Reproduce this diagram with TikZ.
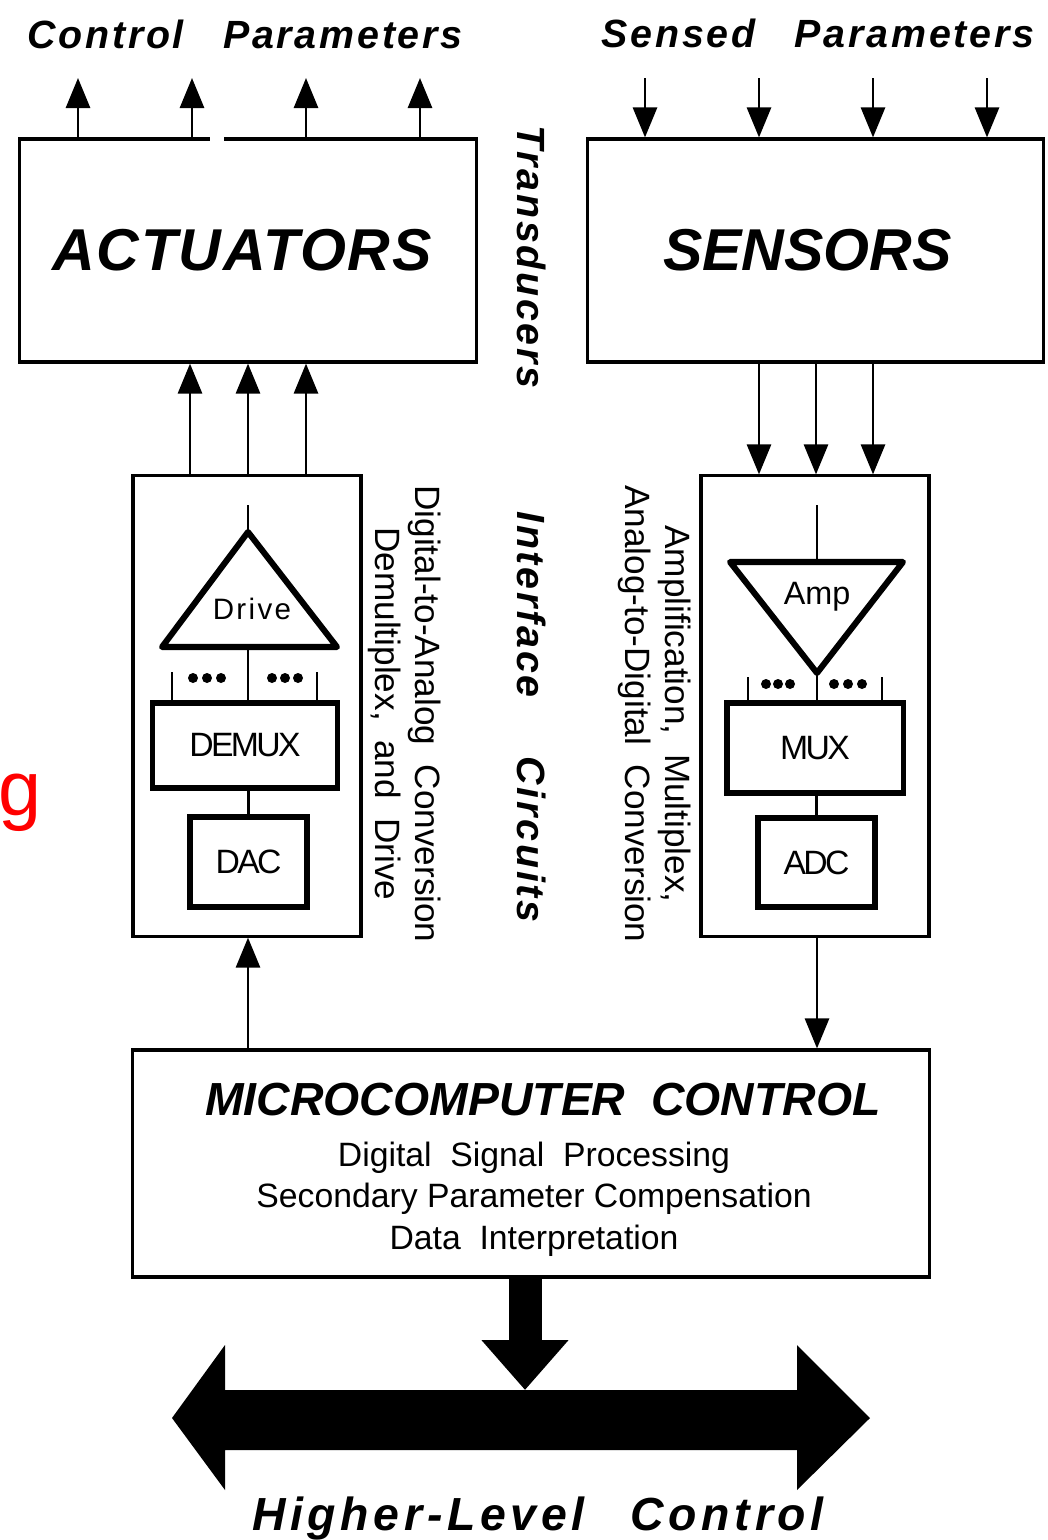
\documentclass[tikz,border=0pt]{standalone}
\usepackage{fontspec}
\setmainfont{Liberation Sans}
\setsansfont{Liberation Sans}
\usepackage{tikz}
\usetikzlibrary{arrows.meta,positioning}

\begin{document}
\begin{tikzpicture}[x=0.025cm, y=-0.025cm, >={Triangle[length=0.75cm,width=0.6cm]}, line width=2pt]
  % ------- styles -------
  \tikzstyle{box}=[draw, line width=2.2pt, inner sep=0pt]
  \tikzstyle{subbox}=[draw, line width=3.6pt, inner sep=0pt, font=\fontsize{24}{28}\selectfont\addfontfeature{LetterSpace=-8}]
  \tikzstyle{tri}=[line width=4.3pt, line join=round]
  \tikzstyle{tag}=[inner sep=0pt, font=\fontsize{28}{32}\selectfont\bfseries\itshape\addfontfeature{LetterSpace=7}]
  \tikzstyle{unit}=[font=\fontsize{42}{48}\selectfont\bfseries\itshape\addfontfeature{LetterSpace=3}]
  \tikzstyle{note}=[inner sep=0pt, align=center, font=\fontsize{25}{28.5}\selectfont]
  \tikzstyle{dot}=[fill, circle, inner sep=0pt, minimum size=0.25cm]

  \useasboundingbox (0,0) rectangle (1047,1540);

  % ------- transducers -------
  \node[box, unit, minimum width=11.4cm, minimum height=5.575cm] (act) at (248,250.5) {ACTUATORS\hspace*{0.3cm}};
  \node[box, unit, minimum width=11.375cm, minimum height=5.575cm] (sens) at (815.5,250.5) {\addfontfeature{LetterSpace=0}SENSORS\hspace*{0.4cm}};
  \fill[white] (210,134) rectangle (224,144);

  \node[tag, anchor=base] (ctrlpar) at (245,48) {Control\hspace{1em}Parameters};
  \node[tag, anchor=base] (senspar) at (818,47) {Sensed\hspace{1em}Parameters};
  \node[tag, rotate=-90] (trans) at (532,257) {Transducers};

  % ------- interface circuits -------
  \node[box, minimum width=5.7cm, minimum height=11.5cm] (dacblk) at (247,706) {};
  \node[box, minimum width=5.7cm, minimum height=11.5cm] (adcblk) at (815,706) {};

  \node[subbox, minimum width=4.625cm, minimum height=2.125cm] (demux) at (245,745.5) {DEMUX};
  \node[subbox, minimum width=2.925cm, minimum height=2.25cm] (dac) at (248.5,862) {DAC};
  \node[subbox, minimum width=4.4cm, minimum height=2.25cm] (mux) at (815,748) {MUX};
  \node[subbox, minimum width=2.925cm, minimum height=2.225cm] (adc) at (816.5,862.5) {ADC};

  % drive amplifier
  \coordinate (drvin) at (248,505);
  \coordinate (drvtop) at (248,532);
  \coordinate (drvbot) at (248,647);
  \draw[tri] (162,647) -- (drvtop) -- (337,647) -- cycle;
  \node[font=\fontsize{21}{24}\selectfont\addfontfeature{LetterSpace=8}] (drv) at (252,609) {Drive};
  \coordinate (dl) at (172,672);
  \coordinate (dr) at (317,672);
  \draw (drvin) -- (drvtop);
  \draw (drvbot) -- (drvbot |- demux.north);
  \draw (dl) -- (dl |- demux.north);
  \draw (dr) -- (dr |- demux.north);
  \foreach \x in {193,207,221,272,285,298} \node[dot] at (\x,678) {};
  \draw (dac.north |- demux.south) -- (dac.north);

  % input amplifier
  \coordinate (ampin) at (817,505);
  \coordinate (amptop) at (817,562);
  \coordinate (ampbot) at (817,673);
  \draw[tri] (730,562) -- (903,562) -- (ampbot) -- cycle;
  \node[font=\fontsize{23}{26}\selectfont] (amp) at (817,597) {Amp};
  \coordinate (ml) at (748,677);
  \coordinate (mr) at (882,677);
  \draw (ampin) -- (amptop);
  \draw (ampbot) -- (ampbot |- mux.north);
  \draw (ml) -- (ml |- mux.north);
  \draw (mr) -- (mr |- mux.north);
  \foreach \x in {766,778,790,834,848,862} \node[dot] at (\x,684) {};
  \draw (adc.north |- mux.south) -- (adc.north);

  \node[note, rotate=-90] (dactxt) at (405,714) {Digital-to-Analog\ \ Conversion\\Demultiplex,\ \ and\ \ Drive};
  \node[note, rotate=-90] (adctxt) at (655,714) {Amplification,\ \ Multiplex,\\Analog-to-Digital\ \ Conversion};
  \node[tag, rotate=-90] (intf) at (532,717) {Interface\hspace{1.5em}Circuits};

  % ------- microcomputer -------
  \node[box, minimum width=19.9cm, minimum height=5.675cm] (micro) at (531,1163.5) {};
  \node[anchor=base, inner sep=0pt, font=\fontsize{33}{36}\selectfont\bfseries\itshape] (mtitle) at (543,1115) {MICROCOMPUTER\ \ CONTROL};
  \node[note, anchor=base, font=\fontsize{24}{29.5}\selectfont] (mtasks) at (534,1249) {Digital\ \ Signal\ \ Processing\\Secondary Parameter Compensation\\Data\ \ Interpretation};

  \node[anchor=base east, inner sep=0pt, text=red, font=\fontsize{55}{60}\selectfont] (gmark) at (43,815) {g};

  % ------- arrows -------
  \foreach \x [count=\i] in {78,192,306,420} {
    \coordinate (cp\i) at (\x,78);
    \draw[->] (act.north -| cp\i) -- (cp\i);
  }
  \foreach \x [count=\i] in {645,759,873,987} {
    \coordinate (sp\i) at (\x,78);
    \draw[->] (sp\i) -- (sens.north -| sp\i);
  }
  \foreach \x [count=\i] in {190,248,306} {
    \coordinate (da\i) at (\x,0);
    \draw[->] (dacblk.north -| da\i) -- (act.south -| da\i);
  }
  \foreach \x [count=\i] in {759,816,873} {
    \coordinate (ad\i) at (\x,0);
    \draw[->] (sens.south -| ad\i) -- (adcblk.north -| ad\i);
  }
  \draw[->] (micro.north -| drvtop) -- (dacblk.south -| drvtop);
  \draw[->] (adcblk.south -| ampbot) -- (micro.north -| ampbot);

  % higher-level bus
  \coordinate (bustop) at (525,1390);
  \fill (172,1418) -- (225,1345) -- (225,1390) -- (797,1390) -- (797,1345) -- (870,1418)
        -- (797,1490) -- (797,1450) -- (225,1450) -- (225,1490) -- cycle;
  \draw[line width=0.825cm, -{Triangle[length=1.25cm,width=2.1cm]}] (micro.south -| bustop) -- (bustop);
  \node[tag, anchor=base, font=\fontsize{33}{36}\selectfont\bfseries\itshape\addfontfeature{LetterSpace=10}] (hlc) at (538,1530) {Higher-Level\hspace{1.0em}Control};

\end{tikzpicture}
\end{document}
